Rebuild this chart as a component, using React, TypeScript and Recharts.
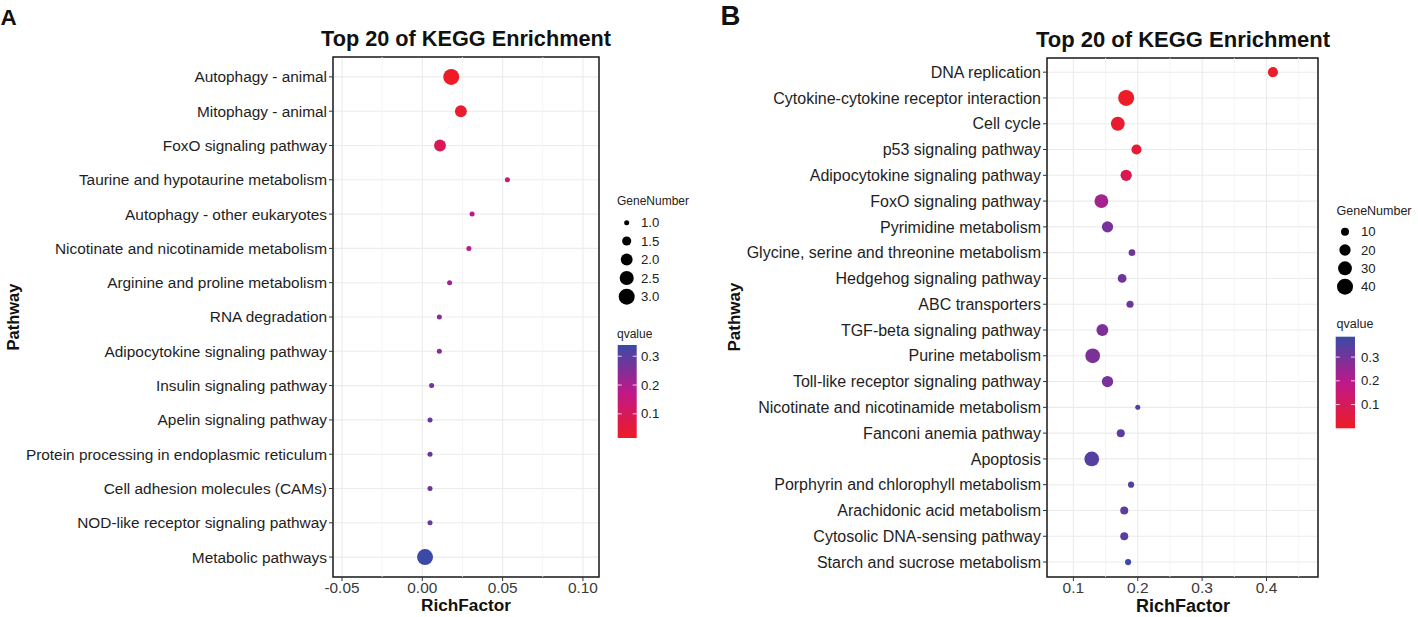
import React from "react";
import {
  ScatterChart,
  Scatter,
  XAxis,
  YAxis,
  ZAxis,
  CartesianGrid,
  ReferenceLine,
  ReferenceArea,
  Cell,
} from "recharts";

// ---- Panel A data ----
const A_PATHWAYS = [
  "Autophagy - animal",
  "Mitophagy - animal",
  "FoxO signaling pathway",
  "Taurine and hypotaurine metabolism",
  "Autophagy - other eukaryotes",
  "Nicotinate and nicotinamide metabolism",
  "Arginine and proline metabolism",
  "RNA degradation",
  "Adipocytokine signaling pathway",
  "Insulin signaling pathway",
  "Apelin signaling pathway",
  "Protein processing in endoplasmic reticulum",
  "Cell adhesion molecules (CAMs)",
  "NOD-like receptor signaling pathway",
  "Metabolic pathways",
];
const A_RICH = [0.018, 0.024, 0.011, 0.053, 0.031, 0.029, 0.017, 0.0106, 0.0106, 0.0058, 0.0048, 0.0048, 0.0048, 0.0048, 0.0017];
const A_GENES = [3, 2, 2, 1, 1, 1, 1, 1, 1, 1, 1, 1, 1, 1, 3];
const A_QVALUE = [0.016, 0.028, 0.095, 0.16, 0.175, 0.18, 0.215, 0.245, 0.245, 0.27, 0.275, 0.275, 0.275, 0.275, 0.339];
const A_X_TICKS = [-0.05, 0, 0.05, 0.1];
const A_X_MINOR = [-0.025, 0.025, 0.075];
const A_SIZE_LEGEND = [1, 1.5, 2, 2.5, 3];
const A_Q_TICKS = [0.1, 0.2, 0.3];

// ---- Panel B data ----
const B_PATHWAYS = [
  "DNA replication",
  "Cytokine-cytokine receptor interaction",
  "Cell cycle",
  "p53 signaling pathway",
  "Adipocytokine signaling pathway",
  "FoxO signaling pathway",
  "Pyrimidine metabolism",
  "Glycine, serine and threonine metabolism",
  "Hedgehog signaling pathway",
  "ABC transporters",
  "TGF-beta signaling pathway",
  "Purine metabolism",
  "Toll-like receptor signaling pathway",
  "Nicotinate and nicotinamide metabolism",
  "Fanconi anemia pathway",
  "Apoptosis",
  "Porphyrin and chlorophyll metabolism",
  "Arachidonic acid metabolism",
  "Cytosolic DNA-sensing pathway",
  "Starch and sucrose metabolism",
];
const B_RICH = [0.41, 0.182, 0.169, 0.198, 0.182, 0.1435, 0.153, 0.191, 0.1757, 0.188, 0.145, 0.13, 0.153, 0.2, 0.1736, 0.1285, 0.1896, 0.179, 0.179, 0.185];
const B_GENES = [16, 40, 30, 16, 20, 30, 20, 7, 12, 8, 22, 34, 20, 4, 10, 34, 6, 10, 10, 6];
const B_QVALUE = [0.01, 0.004, 0.02, 0.03, 0.085, 0.23, 0.295, 0.31, 0.305, 0.31, 0.29, 0.29, 0.295, 0.35, 0.33, 0.345, 0.345, 0.335, 0.335, 0.386];
const B_X_TICKS = [0.1, 0.2, 0.3, 0.4];
const B_X_MINOR = [0.15, 0.25, 0.35, 0.45];
const B_SIZE_LEGEND = [10, 20, 30, 40];
const B_Q_TICKS = [0.1, 0.2, 0.3];

const FONT = '"Liberation Sans", Arial, Helvetica, sans-serif';

// red -> magenta -> blue, like scale_color_gradient(low = "red", high = "blue")
const STOPS = [
  [238, 28, 37],
  [190, 24, 138],
  [58, 74, 166],
];
function qColor(q: number, lo: number, hi: number) {
  let t = (q - lo) / (hi - lo);
  t = Math.max(0, Math.min(1, t));
  const seg = t < 0.5 ? 0 : 1;
  const f = t < 0.5 ? t / 0.5 : (t - 0.5) / 0.5;
  const a = STOPS[seg];
  const b = STOPS[seg + 1];
  const c = a.map((v, i) => Math.round(v + (b[i] - v) * f));
  return `rgb(${c[0]},${c[1]},${c[2]})`;
}

type PanelProps = {
  left: number;
  width: number;
  margin: { top: number; right: number; bottom: number; left: number };
  yWidth: number;
  names: string[];
  rich: number[];
  genes: number[];
  qvalue: number[];
  xDomain: [number, number];
  yDomain: [number, number];
  xTicks: number[];
  xMinor: number[];
  xDigits: number;
  zDomain: [number, number];
  zRange: [number, number];
  qRange: [number, number];
  yFont: number;
  xFont: number;
};

function Panel(p: PanelProps) {
  const rows = p.names.map((name, i) => ({
    idx: i,
    name,
    rich: p.rich[i],
    genes: p.genes[i],
    q: p.qvalue[i],
  }));
  const idxTicks = p.names.map((_, i) => i);

  return (
    <div style={{ position: "absolute", left: p.left, top: 0 }}>
      <ScatterChart width={p.width} height={617} margin={p.margin}>
        <CartesianGrid stroke="#ebebeb" strokeWidth={1.1} />
        {p.xMinor.map((v) => (
          <ReferenceLine key={v} x={v} stroke="#f3f3f3" strokeWidth={0.8} />
        ))}
        <XAxis
          type="number"
          dataKey="rich"
          domain={p.xDomain}
          ticks={p.xTicks}
          interval={0}
          allowDataOverflow
          tickFormatter={(v: number) => v.toFixed(p.xDigits)}
          height={40}
          tickSize={4}
          tickMargin={1}
          axisLine={false}
          tickLine={{ stroke: "#333" }}
          tick={{ fontSize: p.xFont, fill: "#3a3a3a" }}
        />
        <YAxis
          type="number"
          dataKey="idx"
          domain={p.yDomain}
          reversed
          ticks={idxTicks}
          interval={0}
          allowDataOverflow
          tickFormatter={(i: number) => p.names[i]}
          width={p.yWidth}
          tickSize={4}
          tickMargin={2}
          axisLine={false}
          tickLine={{ stroke: "#333" }}
          tick={{ fontSize: p.yFont, fill: "#1e1e1e" }}
        />
        <ZAxis type="number" dataKey="genes" domain={p.zDomain} range={p.zRange} />
        <Scatter data={rows} shape="circle" isAnimationActive={false}>
          {rows.map((r, i) => (
            <Cell key={i} fill={qColor(r.q, p.qRange[0], p.qRange[1])} />
          ))}
        </Scatter>
        <ReferenceArea
          x1={p.xDomain[0]}
          x2={p.xDomain[1]}
          y1={p.yDomain[0]}
          y2={p.yDomain[1]}
          fill="none"
          fillOpacity={0}
          stroke="#1a1a1a"
          strokeWidth={1.5}
          ifOverflow="visible"
        />
      </ScatterChart>
    </div>
  );
}

// area of a legend key, same linear area mapping as the ZAxis
function keyRadius(n: number, zDomain: [number, number], zRange: [number, number]) {
  const area = zRange[0] + ((n - zDomain[0]) / (zDomain[1] - zDomain[0])) * (zRange[1] - zRange[0]);
  return Math.sqrt(area / Math.PI);
}

type LegendProps = {
  id: string;
  x: number;
  titleY: number;
  keyX: number;
  labelX: number;
  keyYs: number[];
  sizes: number[];
  sizeDigits: number;
  zDomain: [number, number];
  zRange: [number, number];
  qTitleY: number;
  barX: number;
  barY: number;
  barW: number;
  barH: number;
  qRange: [number, number];
  qTicks: number[];
  titleFont: number;
  labelFont: number;
};

function BubbleLegend(l: LegendProps) {
  const gradStops = [0, 0.1, 0.2, 0.3, 0.4, 0.5, 0.6, 0.7, 0.8, 0.9, 1];
  const qToY = (q: number) =>
    l.barY + l.barH - ((q - l.qRange[0]) / (l.qRange[1] - l.qRange[0])) * l.barH;
  return (
    <g fontFamily={FONT}>
      <defs>
        <linearGradient id={l.id} x1="0" y1="1" x2="0" y2="0">
          {gradStops.map((t) => (
            <stop
              key={t}
              offset={t}
              stopColor={qColor(l.qRange[0] + t * (l.qRange[1] - l.qRange[0]), l.qRange[0], l.qRange[1])}
            />
          ))}
        </linearGradient>
      </defs>
      <text x={l.x} y={l.titleY} fontSize={l.titleFont} fill="#222" dominantBaseline="central">
        GeneNumber
      </text>
      {l.sizes.map((s, i) => (
        <g key={s}>
          <circle cx={l.keyX} cy={l.keyYs[i]} r={keyRadius(s, l.zDomain, l.zRange)} fill="#000" />
          <text x={l.labelX} y={l.keyYs[i]} fontSize={l.labelFont} fill="#222" dominantBaseline="central">
            {s.toFixed(l.sizeDigits)}
          </text>
        </g>
      ))}
      <text x={l.x} y={l.qTitleY} fontSize={l.titleFont} fill="#222" dominantBaseline="central">
        qvalue
      </text>
      <rect x={l.barX} y={l.barY} width={l.barW} height={l.barH} fill={`url(#${l.id})`} />
      {l.qTicks.map((q) => (
        <g key={q}>
          <line x1={l.barX} x2={l.barX + 4} y1={qToY(q)} y2={qToY(q)} stroke="#fff" strokeWidth={0.8} />
          <line x1={l.barX + l.barW - 4} x2={l.barX + l.barW} y1={qToY(q)} y2={qToY(q)} stroke="#fff" strokeWidth={0.8} />
          <text x={l.labelX} y={qToY(q)} fontSize={l.labelFont} fill="#222" dominantBaseline="central">
            {q.toFixed(1)}
          </text>
        </g>
      ))}
    </g>
  );
}

const A_Z_DOMAIN: [number, number] = [1, 3];
const A_Z_RANGE: [number, number] = [20, 201];
const A_Q_RANGE: [number, number] = [0.016, 0.339];
const B_Z_DOMAIN: [number, number] = [0, 40];
const B_Z_RANGE: [number, number] = [0, 201];
const B_Q_RANGE: [number, number] = [0.0, 0.386];

export default function App() {
  return (
    <div
      style={{
        position: "absolute",
        left: 0,
        top: 0,
        width: 1418,
        height: 617,
        background: "#fff",
        fontFamily: FONT,
        overflow: "hidden",
      }}
    >
      <Panel
        left={0}
        width={740}
        margin={{ top: 57, right: 141, bottom: 0, left: 0 }}
        yWidth={333}
        names={A_PATHWAYS}
        rich={A_RICH}
        genes={A_GENES}
        qvalue={A_QVALUE}
        xDomain={[-0.0556, 0.11]}
        yDomain={[-0.58, 14.58]}
        xTicks={A_X_TICKS}
        xMinor={A_X_MINOR}
        xDigits={2}
        zDomain={A_Z_DOMAIN}
        zRange={A_Z_RANGE}
        qRange={A_Q_RANGE}
        yFont={15.4}
        xFont={15.4}
      />
      <Panel
        left={740}
        width={678}
        margin={{ top: 58, right: 100, bottom: 0, left: 0 }}
        yWidth={307}
        names={B_PATHWAYS}
        rich={B_RICH}
        genes={B_GENES}
        qvalue={B_QVALUE}
        xDomain={[0.059, 0.48]}
        yDomain={[-0.55, 19.58]}
        xTicks={B_X_TICKS}
        xMinor={B_X_MINOR}
        xDigits={1}
        zDomain={B_Z_DOMAIN}
        zRange={B_Z_RANGE}
        qRange={B_Q_RANGE}
        yFont={16}
        xFont={15.5}
      />
      <svg
        width={1418}
        height={617}
        style={{ position: "absolute", left: 0, top: 0, pointerEvents: "none" }}
      >
        <g fontFamily={FONT} fontWeight="bold" fill="#111">
          <text x={0.5} y={25} fontSize={22.5}>A</text>
          <text x={720.5} y={25} fontSize={27.5}>B</text>
          <text x={466} y={46} fontSize={21.7} textAnchor="middle">Top 20 of KEGG Enrichment</text>
          <text x={1183} y={46.7} fontSize={22} textAnchor="middle">Top 20 of KEGG Enrichment</text>
          <text x={466} y={610.5} fontSize={17.2} textAnchor="middle">RichFactor</text>
          <text x={1183} y={612} fontSize={18} textAnchor="middle">RichFactor</text>
          <text transform="translate(13.2,317) rotate(-90)" fontSize={16.5} textAnchor="middle" dominantBaseline="central">
            Pathway
          </text>
          <text transform="translate(734,317) rotate(-90)" fontSize={17} textAnchor="middle" dominantBaseline="central">
            Pathway
          </text>
        </g>
        <BubbleLegend
          id="qgradA"
          x={617}
          titleY={201}
          keyX={626.7}
          labelX={641}
          keyYs={[222.7, 241, 259.5, 278, 296.7]}
          sizes={A_SIZE_LEGEND}
          sizeDigits={1}
          zDomain={A_Z_DOMAIN}
          zRange={A_Z_RANGE}
          qTitleY={334}
          barX={617.7}
          barY={345}
          barW={19}
          barH={93}
          qRange={A_Q_RANGE}
          qTicks={A_Q_TICKS}
          titleFont={12}
          labelFont={13.2}
        />
        <BubbleLegend
          id="qgradB"
          x={1336.5}
          titleY={211}
          keyX={1345}
          labelX={1361}
          keyYs={[231.7, 250, 268.3, 286.7]}
          sizes={B_SIZE_LEGEND}
          sizeDigits={0}
          zDomain={B_Z_DOMAIN}
          zRange={B_Z_RANGE}
          qTitleY={324}
          barX={1335.7}
          barY={336.7}
          barW={19.3}
          barH={91.6}
          qRange={B_Q_RANGE}
          qTicks={B_Q_TICKS}
          titleFont={12.5}
          labelFont={13.2}
        />
      </svg>
    </div>
  );
}
